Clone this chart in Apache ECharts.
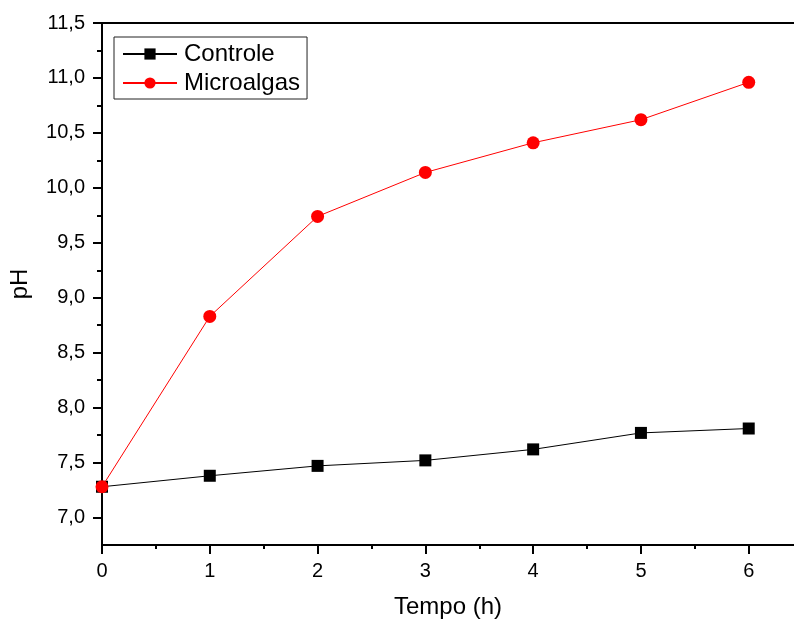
<!DOCTYPE html>
<html>
<head>
<meta charset="utf-8">
<script src="https://cdn.jsdelivr.net/npm/echarts@6/dist/echarts.min.js"></script>
<style>
  html, body { margin: 0; padding: 0; background: #fff; }
  #chart { width: 794px; height: 621px; }
</style>
</head>
<body>
<div id="chart"></div>
<script>
// dados
var tempo = [0, 1, 2, 3, 4, 5, 6];
var controle = [7.28, 7.38, 7.47, 7.52, 7.62, 7.77, 7.81];
var microalgas = [7.28, 8.83, 9.74, 10.14, 10.41, 10.62, 10.96];
var xTicks = [0, 1, 2, 3, 4, 5, 6];
var xMinorTicks = [0.5, 1.5, 2.5, 3.5, 4.5, 5.5];
var yTicks = [7.0, 7.5, 8.0, 8.5, 9.0, 9.5, 10.0, 10.5, 11.0, 11.5];
var yMinorTicks = [7.25, 7.75, 8.25, 8.75, 9.25, 9.75, 10.25, 10.75, 11.25];

var font = 'Liberation Sans, Arial, sans-serif';
var xMax = 6.42;
var chart = echarts.init(document.getElementById('chart'));

function pairs(ys) {
    return tempo.map(function (t, i) { return [t, ys[i]]; });
}

var option = {
    animation: false,
    grid: { left: 102, top: 23, right: 0, bottom: 76, containLabel: false, outerBoundsMode: 'none' },
    legend: {
        left: 114, top: 37,
        orient: 'vertical',
        itemWidth: 54, itemHeight: 14, itemGap: 5,
        padding: [5, 7, 4, 8],
        borderColor: '#222', borderWidth: 1,
        textStyle: { fontFamily: font, fontSize: 24, color: '#000', padding: [0, 0, 0, 2] },
        data: ['Controle', 'Microalgas']
    },
    xAxis: [{
        type: 'value', min: 0, max: xMax,
        name: 'Tempo (h)', nameLocation: 'middle', nameGap: 50,
        nameTextStyle: { fontFamily: font, fontSize: 24, color: '#000' },
        axisLine: { onZero: false, lineStyle: { color: '#000', width: 2 } },
        axisTick: { inside: false, length: 9, customValues: xTicks, lineStyle: { color: '#000', width: 2 } },
        axisLabel: { customValues: xTicks, fontFamily: font, fontSize: 20, color: '#000', margin: 16 },
        splitLine: { show: false }
    }, {
        type: 'value', min: 0, max: xMax, position: 'bottom',
        axisLine: { show: false },
        axisTick: { length: 4, customValues: xMinorTicks, lineStyle: { color: '#000', width: 2 } },
        axisLabel: { show: false },
        splitLine: { show: false }
    }, {
        type: 'value', min: 0, max: xMax, position: 'top',
        axisLine: { lineStyle: { color: '#000', width: 2 } },
        axisTick: { show: false },
        axisLabel: { show: false },
        splitLine: { show: false }
    }],
    yAxis: [{
        type: 'value', min: 6.75, max: 11.5,
        name: 'pH', nameLocation: 'middle', nameGap: 70, nameRotate: 90,
        nameTextStyle: { fontFamily: font, fontSize: 24, color: '#000' },
        axisLine: { onZero: false, lineStyle: { color: '#000', width: 2 } },
        axisTick: { length: 9, customValues: yTicks, lineStyle: { color: '#000', width: 2 } },
        axisLabel: {
            customValues: yTicks, fontFamily: font, fontSize: 20, color: '#000', margin: 17,
            formatter: function (v) { return v.toFixed(1).replace('.', ','); }
        },
        splitLine: { show: false }
    }, {
        type: 'value', min: 6.75, max: 11.5, position: 'left',
        axisLine: { show: false },
        axisTick: { length: 5, customValues: yMinorTicks, lineStyle: { color: '#000', width: 2 } },
        axisLabel: { show: false },
        splitLine: { show: false }
    }],
    series: [{
        name: 'Controle', type: 'line', xAxisIndex: 0, yAxisIndex: 0,
        data: pairs(controle),
        symbol: 'rect', symbolSize: 12,
        itemStyle: { color: '#000' },
        lineStyle: { color: '#000', width: 1 },
        z: 3
    }, {
        name: 'Microalgas', type: 'line', xAxisIndex: 0, yAxisIndex: 0,
        data: pairs(microalgas),
        symbol: 'circle', symbolSize: 13,
        itemStyle: { color: '#ff0000' },
        lineStyle: { color: '#ff0000', width: 1 },
        z: 4
    }]
};
chart.setOption(option);
</script>
</body>
</html>
